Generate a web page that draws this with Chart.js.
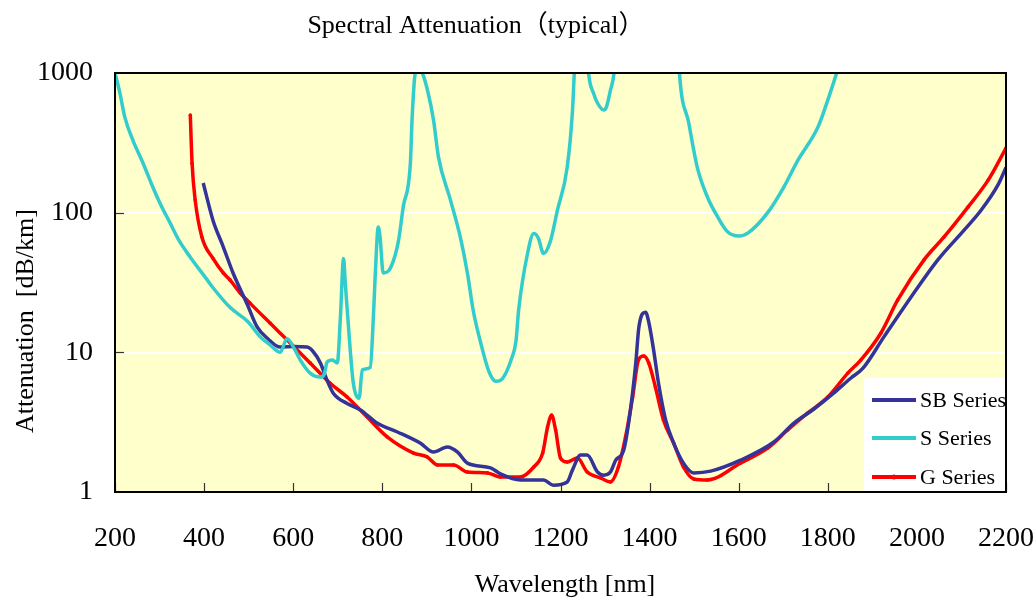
<!DOCTYPE html>
<html>
<head>
<meta charset="utf-8">
<script src="https://cdn.jsdelivr.net/npm/chart.js@4.4.1/dist/chart.umd.min.js"></script>
<style>
  body { margin: 0; background: #fff; }
  #wrap { width: 1035px; height: 606px; }
</style>
</head>
<body>
<div id="wrap"><canvas id="myChart"></canvas></div>
<script>
// S Series (cyan)
const nmS = [200, 211, 222, 240, 263, 285, 301, 324, 344, 369, 407, 420, 458, 499, 526, 548, 571, 586, 604, 616, 638, 661, 670, 676, 688, 699, 706, 713, 717, 728, 735, 748, 755, 773, 780, 784, 791, 795, 802, 818, 836, 847, 863, 867, 874, 882, 890, 903, 915, 926, 953, 975, 991, 1004, 1020, 1040, 1055, 1070, 1090, 1100, 1106, 1126, 1140, 1150, 1162, 1177, 1193, 1215, 1227, 1231, 1240, 1255, 1263, 1274, 1283, 1297, 1303, 1312, 1320, 1330, 1460, 1467, 1488, 1507, 1530, 1553, 1575, 1600, 1622, 1665, 1701, 1733, 1778, 1800, 1820];
const attS = [1000, 718, 483, 331, 226, 152, 117, 84, 63, 48, 33, 29, 21, 16.5, 12.9, 11.3, 10.0, 12.5, 10.4, 8.8, 7.1, 6.65, 7.0, 8.5, 8.8, 8.4, 17.9, 47, 31, 10.4, 6.0, 4.7, 7.5, 7.8, 17.9, 35, 79, 67, 37, 40, 62, 110, 226, 480, 1000, 1080, 1000, 718, 460, 251, 123, 67, 37, 20, 12, 7.2, 6.2, 6.5, 9, 12, 20, 51, 71, 66, 51, 62, 104, 211, 543, 1000, 2500, 2500, 1000, 718, 610, 543, 570, 750, 1000, 3000, 3000, 1000, 437, 211, 129, 93, 73, 68, 72, 100, 152, 238, 410, 640, 1000];

// SB Series (navy)
const nmSB = [398, 420, 443, 465, 497, 519, 542, 571, 600, 631, 645, 661, 676, 690, 721, 751, 788, 834, 885, 915, 946, 969, 991, 1043, 1065, 1110, 1162, 1184, 1215, 1227, 1245, 1260, 1283, 1297, 1312, 1324, 1342, 1357, 1369, 1376, 1391, 1398, 1409, 1420, 1436, 1454, 1476, 1499, 1537, 1604, 1679, 1724, 1769, 1813, 1852, 1879, 1926, 1987, 2047, 2106, 2144, 2182, 2200];
const attSB = [163, 88, 57, 37, 22, 15.2, 12.6, 10.9, 11, 10.9, 10.1, 8.4, 6.3, 5.1, 4.3, 3.87, 3.12, 2.69, 2.24, 1.93, 2.1, 1.93, 1.61, 1.49, 1.35, 1.22, 1.22, 1.12, 1.18, 1.44, 1.84, 1.84, 1.39, 1.32, 1.39, 1.69, 2.0, 3.87, 8.4, 15.2, 19.4, 16.5, 10.4, 6.0, 3.28, 2.24, 1.61, 1.37, 1.41, 1.69, 2.28, 3.12, 3.93, 5.1, 6.55, 7.7, 12.9, 24.9, 45.9, 75, 104, 158, 211];

// G Series (red)
const nmG = [369, 373, 380, 395, 420, 443, 458, 481, 503, 548, 593, 638, 683, 721, 766, 811, 870, 901, 924, 960, 991, 1036, 1065, 1110, 1140, 1160, 1171, 1180, 1189, 1200, 1215, 1238, 1260, 1290, 1312, 1330, 1346, 1362, 1375, 1387, 1398, 1413, 1431, 1454, 1476, 1499, 1530, 1604, 1665, 1710, 1755, 1800, 1845, 1874, 1919, 1957, 2016, 2061, 2115, 2160, 2200];
const attG = [500, 226, 123, 67, 47, 37, 33, 26.6, 22.5, 16.2, 11.7, 8.4, 6.0, 4.79, 3.44, 2.48, 1.9, 1.78, 1.56, 1.56, 1.39, 1.37, 1.28, 1.28, 1.51, 1.9, 2.92, 3.55, 2.78, 1.75, 1.64, 1.75, 1.39, 1.26, 1.18, 1.51, 2.48, 4.79, 8.8, 9.4, 8.4, 5.65, 3.28, 2.24, 1.51, 1.24, 1.22, 1.61, 2.06, 2.78, 3.68, 4.79, 7.1, 8.8, 13.7, 23.7, 45.9, 67, 110, 171, 290];

const xTicks = [200, 400, 600, 800, 1000, 1200, 1400, 1600, 1800, 2000, 2200];
const yTicks = [1, 10, 100, 1000];
const seriesNames = ["SB Series", "S Series", "G Series"];
const seriesColors = ["#333399", "#33CCCC", "#FF0000"];

const serif = "'Liberation Serif', 'Times New Roman', serif";

function toPoints(xs, ys) {
  return xs.map((x, i) => ({ x: x, y: ys[i] }));
}

const decor = {
  id: "decor",
  beforeDraw(chart) {
    const { ctx, chartArea: a } = chart;
    ctx.save();
    ctx.fillStyle = "#fff";
    ctx.fillRect(0, 0, chart.width, chart.height);
    ctx.fillStyle = "#FFFFCC";
    ctx.fillRect(a.left, a.top, a.right - a.left, a.bottom - a.top);
    ctx.restore();
  },
  afterDatasetsDraw(chart) {
    const { ctx, chartArea: a, scales } = chart;
    ctx.save();
    // tick marks, inside
    ctx.strokeStyle = "#333";
    ctx.lineWidth = 1.2;
    for (const v of xTicks) {
      const px = Math.round(scales.x.getPixelForValue(v)) + 0.5;
      ctx.beginPath();
      ctx.moveTo(px, a.bottom);
      ctx.lineTo(px, a.bottom - 9);
      ctx.stroke();
    }
    for (const v of [10, 100]) {
      const py = Math.round(scales.y.getPixelForValue(v)) + 0.5;
      ctx.beginPath();
      ctx.moveTo(a.left, py);
      ctx.lineTo(a.left + 9, py);
      ctx.stroke();
    }
    // frame
    ctx.strokeStyle = "#000";
    ctx.lineWidth = 2;
    ctx.strokeRect(a.left, a.top, a.right - a.left, a.bottom - a.top);

    // legend box
    ctx.fillStyle = "#fff";
    ctx.fillRect(864, 378, a.right - 864 - 1, a.bottom - 378 - 1);
    const rows = [400, 438, 477];
    ctx.font = "22px " + serif;
    ctx.textBaseline = "middle";
    ctx.textAlign = "left";
    rows.forEach((y, i) => {
      ctx.strokeStyle = seriesColors[i];
      ctx.lineWidth = 4;
      ctx.beginPath();
      ctx.moveTo(872, y);
      ctx.lineTo(916, y);
      ctx.stroke();
      if (i === 2) {
        ctx.fillStyle = seriesColors[i];
        ctx.beginPath();
        ctx.arc(894, y, 2.5, 0, Math.PI * 2);
        ctx.fill();
      }
      ctx.fillStyle = "#000";
      ctx.fillText(seriesNames[i], 920, y + 1);
    });

    // title and axis titles
    ctx.fillStyle = "#000";
    ctx.textAlign = "center";
    ctx.font = "26px " + serif + ", 'Noto Sans CJK JP'";
    ctx.fillText("Spectral Attenuation\uFF08typical\uFF09", 476, 26);
    ctx.font = "26px " + serif;
    ctx.fillText("Wavelength [nm]", 565, 585);
    ctx.translate(26, 321);
    ctx.rotate(-Math.PI / 2);
    ctx.fillText("Attenuation  [dB/km]", 0, 0);
    ctx.restore();
  }
};

const ctx = document.getElementById("myChart").getContext("2d");
const myChart = new Chart(ctx, {
  type: "line",
  data: {
    datasets: [
      {
        label: seriesNames[1],
        data: toPoints(nmS, attS),
        borderColor: seriesColors[1],
        borderWidth: 3.5,
        pointRadius: 0,
        cubicInterpolationMode: "monotone",
        clip: 0,
      },
      {
        label: seriesNames[0],
        data: toPoints(nmSB, attSB),
        borderColor: seriesColors[0],
        borderWidth: 3.5,
        pointRadius: 0,
        cubicInterpolationMode: "monotone",
        clip: 0,
      },
      {
        label: seriesNames[2],
        data: toPoints(nmG, attG),
        borderColor: seriesColors[2],
        backgroundColor: seriesColors[2],
        borderWidth: 3.5,
        pointRadius: 1.8,
        pointBorderWidth: 0,
        cubicInterpolationMode: "monotone",
        clip: 0,
      },
    ],
  },
  options: {
    responsive: true,
    maintainAspectRatio: false,
    animation: false,
    layout: { padding: { top: 73, right: 29, left: 0, bottom: 0 } },
    plugins: {
      legend: { display: false },
      tooltip: { enabled: false },
    },
    scales: {
      x: {
        type: "linear",
        min: 200,
        max: 2200,
        afterBuildTicks: (s) => { s.ticks = xTicks.map((v) => ({ value: v })); },
        ticks: {
          callback: (v) => String(v),
          font: { family: serif, size: 28 },
          color: "#000",
          padding: 30,
          maxRotation: 0,
          autoSkip: false,
        },
        grid: { display: false, drawTicks: false },
        border: { display: false },
        afterFit: (s) => { s.height = 114; s.paddingLeft = 0; s.paddingRight = 0; },
      },
      y: {
        type: "logarithmic",
        min: 1,
        max: 1000,
        afterBuildTicks: (s) => { s.ticks = yTicks.map((v) => ({ value: v })); },
        ticks: {
          callback: (v) => String(v),
          font: { family: serif, size: 28 },
          color: "#000",
          padding: 22,
        },
        grid: {
          color: (c) => (c.tick && (c.tick.value === 10 || c.tick.value === 100)) ? "#fff" : "rgba(0,0,0,0)",
          lineWidth: 1.5,
          drawTicks: false,
        },
        border: { display: false },
        afterFit: (s) => { s.width = 115; s.paddingTop = 0; s.paddingBottom = 0; },
      },
    },
  },
  plugins: [decor],
});
</script>
</body>
</html>
